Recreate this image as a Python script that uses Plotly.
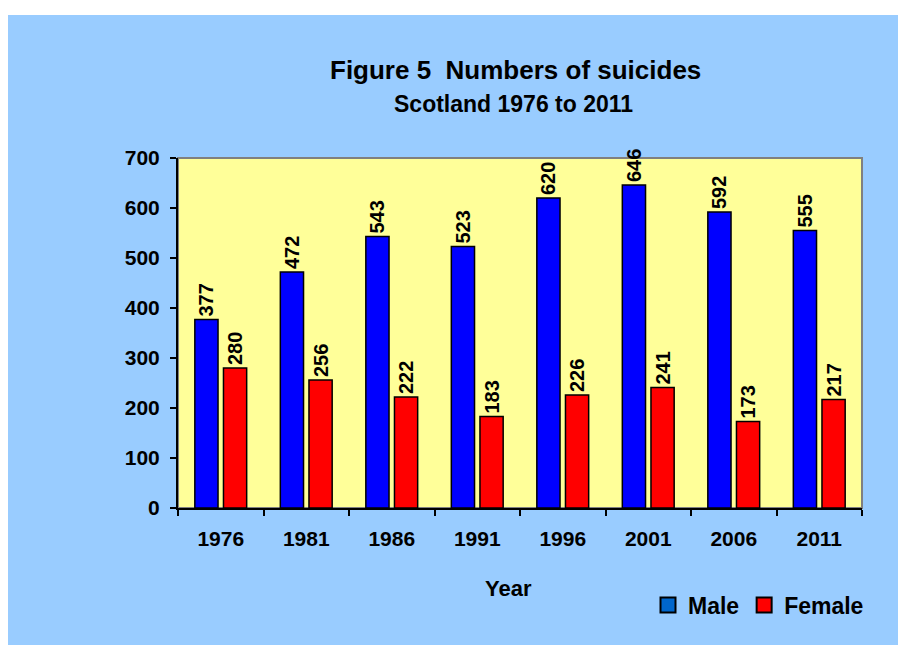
import plotly.graph_objects as go

years = ["1976", "1981", "1986", "1991", "1996", "2001", "2006", "2011"]
male = [377, 472, 543, 523, 620, 646, 592, 555]
female = [280, 256, 222, 183, 226, 241, 173, 217]

W, H = 906, 648
L, R, T, B = 178, 44, 158, 140
pw, ph = W - L - R, H - T - B

def px_x(x):
    return (x - L) / pw

def px_y(y):
    return (H - B - y) / ph

FONT = "Arial, Liberation Sans, sans-serif"
LBL = dict(family=FONT, size=20, color="black", weight="bold")

fig = go.Figure()
fig.add_trace(go.Bar(
    x=years, y=male, name="Male", showlegend=False,
    marker=dict(color="#0000FF", line=dict(color="black", width=1.5)),
    text=[str(v) for v in male], textposition="outside", textangle=-90,
    textfont=LBL, constraintext="none", cliponaxis=False,
))
fig.add_trace(go.Bar(
    x=years, y=female, name="Female", showlegend=False,
    marker=dict(color="#FF0000", line=dict(color="black", width=1.5)),
    text=[str(v) for v in female], textposition="outside", textangle=-90,
    textfont=LBL, constraintext="none", cliponaxis=False,
))
# legend-only entries (legend swatch colours differ slightly from bars in the original)
fig.add_trace(go.Scatter(
    x=[None], y=[None], mode="markers", name="Male",
    marker=dict(symbol="square", size=15, color="#0066CC", line=dict(color="black", width=2)),
))
fig.add_trace(go.Scatter(
    x=[None], y=[None], mode="markers", name="Female",
    marker=dict(symbol="square", size=15, color="#FF0000", line=dict(color="black", width=2)),
))

fig.update_layout(
    width=W, height=H,
    margin=dict(l=L, r=R, t=T, b=B),
    paper_bgcolor="white",
    plot_bgcolor="rgba(0,0,0,0)",
    barmode="group",
    bargap=0.33,
    bargroupgap=0.19,
    font=dict(family=FONT, color="black"),
    showlegend=True,
    legend=dict(
        orientation="h", x=px_x(648), y=px_y(605), xanchor="left", yanchor="middle",
        font=dict(family=FONT, size=23, color="black", weight="bold"),
        bgcolor="rgba(0,0,0,0)", itemwidth=30, tracegroupgap=0,
    ),
    shapes=[
        dict(type="rect", xref="paper", yref="paper", layer="below",
             x0=px_x(8), x1=px_x(898), y0=px_y(645), y1=px_y(15),
             fillcolor="#99CCFF", line=dict(width=0)),
        dict(type="rect", xref="paper", yref="paper", layer="below",
             x0=0, x1=1, y0=0, y1=1,
             fillcolor="#FFFF99", line=dict(color="#808080", width=2)),
    ],
    annotations=[
        dict(text="<b>Figure 5  Numbers of suicides</b>", xref="paper", yref="paper",
             x=px_x(515), y=px_y(70), xanchor="center", yanchor="middle",
             showarrow=False, font=dict(family=FONT, size=26, color="black")),
        dict(text="<b>Scotland 1976 to 2011</b>", xref="paper", yref="paper",
             x=px_x(513), y=px_y(104), xanchor="center", yanchor="middle",
             showarrow=False, font=dict(family=FONT, size=23, color="black")),
        dict(text="<b>Year</b>", xref="paper", yref="paper",
             x=px_x(508), y=px_y(588), xanchor="center", yanchor="middle",
             showarrow=False, font=dict(family=FONT, size=22, color="black")),
    ],
)

fig.update_xaxes(
    type="category", showline=True, linecolor="black", linewidth=2,
    ticks="outside", tickson="boundaries", ticklen=6, tickwidth=2, tickcolor="black",
    tickfont=dict(family=FONT, size=21, color="black", weight="bold"),
    ticklabelstandoff=11,
    showgrid=False, zeroline=False, mirror=False,
)
fig.update_yaxes(
    range=[0, 700], dtick=100, showline=True, linecolor="black", linewidth=2,
    ticks="outside", ticklen=6, tickwidth=2, tickcolor="black",
    tickfont=dict(family=FONT, size=21, color="black", weight="bold"),
    ticklabelstandoff=6,
    showgrid=False, zeroline=False,
)

fig.write_html("out.html")
